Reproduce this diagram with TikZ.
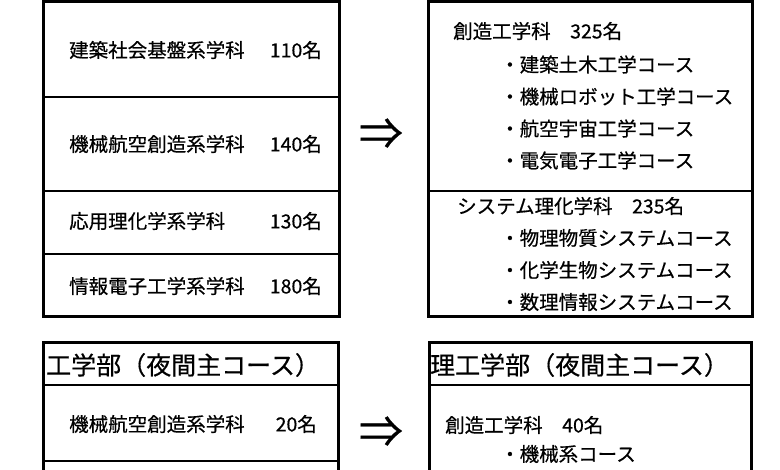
\documentclass[tikz,border=0pt]{standalone}
\usepackage{fontspec}
\setmainfont[FakeBold=0.5]{Noto Sans CJK JP}
\usetikzlibrary{positioning}

\begin{document}
\begin{tikzpicture}[x=1pt, y=-1pt,
  every node/.style={font=\fontsize{19.5}{22}\selectfont, inner sep=0pt},
  dept/.style={anchor=west},
  num/.style={anchor=east},
  course/.style={anchor=west},
  head/.style={anchor=west, font=\fontsize{25}{28}\selectfont},
  conv/.style={font=\fontsize{44}{48}\selectfont},
  outer/.style={draw, line width=3pt},
  divider/.style={line width=1.5pt},
  headrule/.style={line width=2.5pt}
]
\clip (0,0) rectangle (780,470);

\draw[outer] (43,1.5) rectangle (339,317);
\foreach \y in {97,191,254}
  \draw[divider] (43,\y) -- (339,\y);

\node[dept] (d1) at (69,50)  {建築社会基盤系学科};
\node[num]  (n1) at (322,50) {110名};
\node[dept] (d2) at (69,144)  {機械航空創造系学科};
\node[num]  (n2) at (322,144) {140名};
\node[dept] (d3) at (69,221)  {応用理化学系学科};
\node[num]  (n3) at (322,221) {130名};
\node[dept] (d4) at (69,286)  {情報電子工学系学科};
\node[num]  (n4) at (322,286) {180名};

\node[conv] (a1) at (381,134) {⇒};

\draw[outer] (428,2) rectangle (752,317);
\draw[divider] (428,191) -- (752,191);

\node[dept] (s1) at (453,31) {創造工学科　325名};
\foreach \t [count=\i] in {建築土木工学コース,機械ロボット工学コース,航空宇宙工学コース,電気電子工学コース}
  \node[course] (s1c\i) at (500,32.5+32*\i) {・\t};
\node[dept] (s2) at (457,206) {システム理化学科　235名};
\foreach \t [count=\i] in {物理物質システムコース,化学生物システムコース,数理情報システムコース}
  \node[course] (s2c\i) at (500,206+32*\i) {・\t};

\draw[outer] (43,343) rectangle (338,500);
\draw[headrule] (43,385) -- (338,385);
\draw[divider] (43,461) -- (338,461);

\node[head] (h1) at (46,365) {工学部（夜間主コース）};
\node[dept] (d5) at (69,424)  {機械航空創造系学科};
\node[num]  (n5) at (317,424) {20名};

\node[conv] (a2) at (381,432) {⇒};

\draw[outer] (429,343) rectangle (751,500);
\draw[headrule] (429,385) -- (751,385);

\node[head] (h2) at (430,365) {理工学部（夜間主コース）};
\node[dept] (s3) at (445,425) {創造工学科　40名};
\node[course] (s3c1) at (500,454) {・機械系コース};

\end{tikzpicture}
\end{document}
